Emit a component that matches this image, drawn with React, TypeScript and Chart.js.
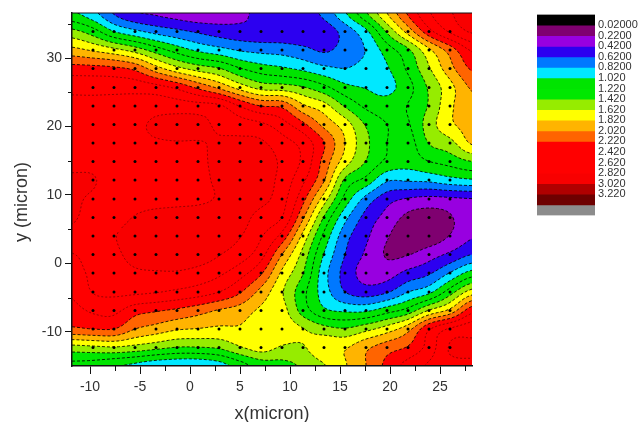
import React, { useEffect, useRef } from "react";
import { Chart, registerables } from "chart.js";

Chart.register(...registerables);

const gridX = [-11.8, -9.7, -7.6, -5.5, -3.4, -1.3, 0.8, 2.9, 5.0, 7.1, 9.2, 11.3, 13.4, 15.5, 17.6, 19.7, 21.8, 23.9, 26.0, 28.2];
const gridY = [36.6, 33.9, 31.2, 28.5, 25.7, 23.0, 20.3, 17.6, 14.9, 12.2, 9.4, 6.7, 4.0, 1.3, -1.4, -4.2, -6.9, -9.6, -12.3, -15.0];

const z00 = [1.05, .88, .60, .44, .39, .33, .28, .32, .39, .45, .47, .50, .68, 1.0, 1.4, 1.82, 2.25, 2.6, 2.8, 2.95];
const z01 = [1.48, 1.31, 1.02, .87, .75, .67, .59, .52, .48, .46, .46, .44, .50, .70, .97, 1.45, 1.9, 2.35, 2.65, 2.85];
const z02 = [1.88, 1.79, 1.68, 1.53, 1.32, 1.13, .98, .89, .80, .76, .74, .68, .59, .70, .83, 1.12, 1.38, 1.78, 2.11, 2.45];
const z03 = [2.30, 2.29, 2.26, 2.17, 1.90, 1.68, 1.53, 1.43, 1.23, 1.11, 1.05, .97, .87, .82, .90, 1.0, 1.26, 1.60, 1.95, 2.25];
const z04 = [2.57, 2.56, 2.56, 2.55, 2.50, 2.38, 2.18, 1.98, 1.74, 1.55, 1.52, 1.44, 1.28, 1.08, 1.01, .96, 1.15, 1.45, 1.75, 2.05];
const z05 = [2.66, 2.67, 2.68, 2.70, 2.73, 2.72, 2.70, 2.66, 2.41, 2.22, 2.18, 1.86, 1.70, 1.40, 1.18, 1.12, 1.23, 1.44, 1.78, 1.95];
const z06 = [2.72, 2.72, 2.74, 2.77, 2.86, 2.90, 2.88, 2.78, 2.72, 2.66, 2.50, 2.27, 1.96, 1.72, 1.40, 1.22, 1.20, 1.52, 1.78, 1.90];
const z07 = [2.74, 2.74, 2.75, 2.77, 2.80, 2.81, 2.81, 2.84, 2.86, 2.85, 2.70, 2.55, 2.23, 1.82, 1.47, 1.22, 1.14, 1.43, 1.55, 1.85];
const z08 = [2.78, 2.78, 2.76, 2.76, 2.76, 2.77, 2.79, 2.86, 2.92, 2.93, 2.78, 2.58, 2.15, 1.72, 1.41, 1.18, 1.10, 1.22, 1.30, 1.42];
const z09 = [2.84, 2.83, 2.76, 2.75, 2.75, 2.76, 2.78, 2.85, 2.92, 2.92, 2.75, 2.46, 2.04, 1.38, 1.16, .85, .85, .87, .95, 1.0];
const z10 = [2.84, 2.80, 2.76, 2.76, 2.76, 2.77, 2.78, 2.84, 2.93, 2.88, 2.70, 2.28, 1.72, 1.15, .75, .50, .40, .36, .38, .41];
const z11 = [2.84, 2.76, 2.76, 2.83, 2.88, 2.90, 2.92, 2.93, 2.90, 2.74, 2.62, 2.05, 1.40, .88, .55, .35, .17, .13, .20, .36];
const z12 = [2.76, 2.74, 2.81, 2.90, 2.95, 2.97, 2.95, 2.90, 2.83, 2.64, 2.35, 1.76, 1.17, .70, .46, .24, .10, .10, .23, .40];
const z13 = [2.61, 2.70, 2.78, 2.88, 2.94, 2.95, 2.92, 2.83, 2.72, 2.50, 2.02, 1.55, 1.01, .62, .39, .20, .21, .33, .46, .62];
const z14 = [2.55, 2.66, 2.73, 2.79, 2.80, 2.80, 2.75, 2.66, 2.50, 2.25, 1.78, 1.43, .90, .55, .34, .33, .48, .59, .83, 1.1];
const z15 = [2.45, 2.63, 2.66, 2.66, 2.63, 2.58, 2.52, 2.42, 2.24, 1.95, 1.64, 1.28, .92, .62, .52, .60, .82, .97, 1.33, 1.72];
const z16 = [2.35, 2.45, 2.47, 2.30, 2.24, 2.18, 2.10, 2.0, 1.93, 1.78, 1.7, 1.33, 1.06, .99, .99, 1.14, 1.30, 1.64, 1.88, 2.35];
const z17 = [2.18, 2.22, 2.22, 2.02, 1.93, 1.84, 1.81, 1.78, 1.79, 1.7, 1.72, 1.63, 1.50, 1.44, 1.56, 1.72, 1.95, 2.4, 2.65, 2.75];
const z18 = [1.54, 1.57, 1.60, 1.55, 1.48, 1.41, 1.41, 1.45, 1.6, 1.7, 1.6, 1.6, 1.78, 1.80, 1.98, 2.13, 2.24, 2.5, 2.84, 2.84];
const z19 = [1.15, 1.12, 1.04, .96, .87, .84, .84, .92, 1.12, 1.3, 1.35, 1.45, 1.6, 1.80, 2.02, 2.28, 2.5, 2.65, 2.75, 2.8];
const zRows = [z00, z01, z02, z03, z04, z05, z06, z07, z08, z09, z10, z11, z12, z13, z14, z15, z16, z17, z18, z19];

const levels = [0.02, 0.22, 0.42, 0.62, 0.82, 1.02, 1.22, 1.42, 1.62, 1.82, 2.02, 2.22, 2.42, 2.62, 2.82, 3.02, 3.22];
const levelLabels = ["0.02000", "0.2200", "0.4200", "0.6200", "0.8200", "1.020", "1.220", "1.420", "1.620", "1.820", "2.020", "2.220", "2.420", "2.620", "2.820", "3.020", "3.220"];
const bandColors = [
  "#000000", "#7f0070", "#9800e0", "#2c00f0", "#0078ff", "#00e8ff", "#00e400", "#00e800", "#96ec00", "#ffff00",
  "#ffb400", "#ff6400", "#ff0000", "#ff0000", "#ff0000", "#f80000", "#b00000", "#6e0000", "#8c8c8c",
];
const xMajorTicks = [-10, -5, 0, 5, 10, 15, 20, 25];
const yMajorTicks = [-10, 0, 10, 20, 30];
const xMinorTicks = [-7.5, -2.5, 2.5, 7.5, 12.5, 17.5, 22.5, 27.5];
const yMinorTicks = [-5, 5, 15, 25, 35];

const textFont = "'Liberation Sans', Arial, sans-serif";
const smooth = 5;

function catmull(a: number, b: number, c: number, d: number, t: number) {
  return 0.5 * (2 * b + (c - a) * t + (2 * a - 5 * b + 4 * c - d) * t * t + (3 * b - a - 3 * c + d) * t * t * t);
}
function refine(line: number[]) {
  const out: number[] = [];
  const n = line.length;
  for (let i = 0; i < n - 1; i++) {
    const a = line[Math.max(i - 1, 0)], b = line[i], c = line[i + 1], d = line[Math.min(i + 2, n - 1)];
    for (let s = 0; s < smooth; s++) out.push(catmull(a, b, c, d, s / smooth));
  }
  out.push(line[n - 1]);
  return out;
}
function refineGrid(rows: number[][]) {
  const across = rows.map(refine);
  const width = across[0].length;
  const cols: number[][] = [];
  for (let i = 0; i < width; i++) cols.push(refine(across.map((r) => r[i])));
  return cols; // cols[i][j]
}
function refineAxis(v: number[]) {
  const out: number[] = [];
  for (let i = 0; i < v.length - 1; i++) for (let s = 0; s < smooth; s++) out.push(v[i] + ((v[i + 1] - v[i]) * s) / smooth);
  out.push(v[v.length - 1]);
  return out;
}

const contourPlugin = {
  id: "contour",
  beforeDatasetsDraw(chart: any) {
    const { ctx, chartArea: area, scales } = chart;
    const field = refineGrid(zRows);
    const px = refineAxis(gridX).map((v) => scales.x.getPixelForValue(v));
    const py = refineAxis(gridY).map((v) => scales.y.getPixelForValue(v));
    const nx = px.length, ny = py.length;
    ctx.save();
    ctx.beginPath();
    ctx.rect(area.left, area.top, area.right - area.left, area.bottom - area.top);
    ctx.clip();
    ctx.fillStyle = bandColors[0];
    ctx.fillRect(area.left, area.top, area.right - area.left, area.bottom - area.top);
    levels.forEach((lv, k) => {
      ctx.beginPath();
      for (let i = 0; i < nx - 1; i++) {
        for (let j = 0; j < ny - 1; j++) {
          const q = [
            [px[i], py[j], field[i][j]],
            [px[i + 1], py[j], field[i + 1][j]],
            [px[i + 1], py[j + 1], field[i + 1][j + 1]],
            [px[i], py[j + 1], field[i][j + 1]],
          ];
          const poly: number[][] = [];
          for (let m = 0; m < 4; m++) {
            const a = q[m], b = q[(m + 1) % 4];
            if (a[2] >= lv) poly.push(a);
            if (a[2] >= lv !== b[2] >= lv) {
              const t = (lv - a[2]) / (b[2] - a[2]);
              poly.push([a[0] + (b[0] - a[0]) * t, a[1] + (b[1] - a[1]) * t, lv]);
            }
          }
          if (poly.length > 2) {
            ctx.moveTo(poly[0][0], poly[0][1]);
            for (let m = 1; m < poly.length; m++) ctx.lineTo(poly[m][0], poly[m][1]);
            ctx.closePath();
          }
        }
      }
      ctx.fillStyle = bandColors[k + 1];
      ctx.fill();
    });

    // contour lines, chained so that the dash pattern runs along each line
    levels.forEach((lv) => {
      const links = new Map<string, string[]>();
      const where = new Map<string, number[]>();
      const link = (a: string, b: string) => {
        if (!links.has(a)) links.set(a, []);
        if (!links.has(b)) links.set(b, []);
        links.get(a)!.push(b);
        links.get(b)!.push(a);
      };
      const cross = (key: string, x0: number, y0: number, z0: number, x1: number, y1: number, z1: number) => {
        if (z0 >= lv === z1 >= lv) return null;
        const t = (lv - z0) / (z1 - z0);
        where.set(key, [x0 + (x1 - x0) * t, y0 + (y1 - y0) * t]);
        return key;
      };
      for (let i = 0; i < nx - 1; i++) {
        for (let j = 0; j < ny - 1; j++) {
          const a = field[i][j], b = field[i + 1][j], c = field[i + 1][j + 1], d = field[i][j + 1];
          const e = [
            cross(`h${i}_${j}`, px[i], py[j], a, px[i + 1], py[j], b),
            cross(`v${i + 1}_${j}`, px[i + 1], py[j], b, px[i + 1], py[j + 1], c),
            cross(`h${i}_${j + 1}`, px[i], py[j + 1], d, px[i + 1], py[j + 1], c),
            cross(`v${i}_${j}`, px[i], py[j], a, px[i], py[j + 1], d),
          ].filter(Boolean) as string[];
          if (e.length === 2) link(e[0], e[1]);
          if (e.length === 4) {
            link(e[0], e[3]);
            link(e[1], e[2]);
          }
        }
      }
      const seen = new Set<string>();
      const walk = (start: string) => {
        ctx.moveTo(where.get(start)![0], where.get(start)![1]);
        seen.add(start);
        let cur = start;
        for (;;) {
          const next = links.get(cur)!.find((n) => !seen.has(n));
          if (!next) break;
          ctx.lineTo(where.get(next)![0], where.get(next)![1]);
          seen.add(next);
          cur = next;
        }
      };
      ctx.beginPath();
      links.forEach((n, key) => {
        if (n.length === 1 && !seen.has(key)) walk(key);
      });
      links.forEach((_n, key) => {
        if (!seen.has(key)) walk(key);
      });
      ctx.setLineDash(lv > 2.3 ? [2, 2] : [3, 2]);
      ctx.lineWidth = lv > 2.3 ? 0.8 : 1;
      ctx.strokeStyle = lv > 2.3 ? "rgba(70,0,0,0.7)" : "rgba(0,0,0,0.85)";
      ctx.stroke();
    });
    ctx.restore();
  },
  afterDatasetsDraw(chart: any) {
    const { ctx, chartArea: area, scales } = chart;
    ctx.save();
    ctx.strokeStyle = "#111";
    ctx.lineWidth = 1;
    ctx.beginPath();
    ctx.moveTo(area.left, area.top);
    ctx.lineTo(area.right, area.top);
    xMinorTicks.forEach((v) => {
      const p = Math.round(scales.x.getPixelForValue(v)) + 0.5;
      ctx.moveTo(p, area.bottom);
      ctx.lineTo(p, area.bottom + 5);
    });
    yMinorTicks.forEach((v) => {
      const p = Math.round(scales.y.getPixelForValue(v)) + 0.5;
      ctx.moveTo(area.left, p);
      ctx.lineTo(area.left - 4, p);
    });
    ctx.stroke();
    ctx.restore();
  },
};

const dotPoints: { x: number; y: number }[] = [];
gridX.slice(1, -1).forEach((x) => gridY.slice(1, -1).forEach((y) => dotPoints.push({ x, y })));

const canvasStyle = (left: number, top: number, width: number, height: number): React.CSSProperties => ({
  position: "absolute",
  left,
  top,
  width,
  height,
  filter: "blur(0.4px)",
});

export default function App() {
  const mainRef = useRef<HTMLCanvasElement>(null);
  const barRef = useRef<HTMLCanvasElement>(null);

  useEffect(() => {
    const axisFont = { family: textFont, size: 14 };
    const main = new Chart(mainRef.current!, {
      type: "scatter",
      data: {
        datasets: [
          { data: dotPoints, pointRadius: 1.5, pointBackgroundColor: "#000", pointBorderWidth: 0, showLine: false },
        ],
      },
      plugins: [contourPlugin],
      options: {
        animation: false,
        responsive: false,
        layout: { padding: { left: 0, right: 167, top: 13, bottom: 0 } },
        plugins: { legend: { display: false }, tooltip: { enabled: false } },
        scales: {
          x: {
            type: "linear",
            min: -11.8,
            max: 28.2,
            afterFit: (s: any) => { s.height = 56; },
            afterBuildTicks: (s: any) => { s.ticks = xMajorTicks.map((value) => ({ value })); },
            border: { color: "#111", width: 1.5, z: 2 },
            grid: { display: true, drawOnChartArea: false, drawTicks: true, tickLength: 8, tickColor: "#111", tickWidth: 1 },
            ticks: { padding: 5, color: "#333", font: axisFont, maxRotation: 0, autoSkip: false },
            title: { display: true, text: "x(micron)", color: "#333", font: { family: textFont, size: 18 }, padding: { top: 0, bottom: -3 } },
          },
          y: {
            type: "linear",
            min: -15,
            max: 36.6,
            afterFit: (s: any) => { s.width = 72; },
            afterBuildTicks: (s: any) => { s.ticks = yMajorTicks.map((value) => ({ value })); },
            border: { color: "#111", width: 1.5, z: 2 },
            grid: { display: true, drawOnChartArea: false, drawTicks: true, tickLength: 7, tickColor: "#111", tickWidth: 1 },
            ticks: { padding: 3, color: "#333", font: axisFont, autoSkip: false },
            title: { display: true, text: "y (micron)     ", color: "#333", font: { family: textFont, size: 18 }, padding: { top: 11, bottom: 0 } },
          },
        },
      } as any,
    });

    const bar = new Chart(barRef.current!, {
      type: "bar",
      data: {
        labels: ["scale"],
        datasets: bandColors.map((c) => ({
          data: [1],
          backgroundColor: c,
          borderWidth: 0,
          categoryPercentage: 1,
          barPercentage: 1,
        })),
      },
      options: {
        animation: false,
        responsive: false,
        layout: { padding: { left: 7, right: 0, top: 9, bottom: 5 } },
        plugins: { legend: { display: false }, tooltip: { enabled: false } },
        scales: {
          x: { stacked: true, display: false },
          y: {
            stacked: true,
            position: "right",
            reverse: true,
            min: 0,
            max: bandColors.length,
            afterFit: (s: any) => { s.width = 44; },
            border: { display: false },
            grid: { display: false, drawTicks: false, tickLength: 0 },
            ticks: {
              stepSize: 1,
              autoSkip: false,
              padding: 3,
              color: "#333",
              font: { family: textFont, size: 11 },
              callback: (v: any) => levelLabels[Number(v) - 1] ?? "",
            },
          },
        },
      } as any,
    });

    return () => {
      main.destroy();
      bar.destroy();
    };
  }, []);

  return (
    <div style={{ position: "absolute", left: 0, top: 0, width: 639, height: 422, background: "#fff", overflow: "hidden" }}>
      <canvas ref={mainRef} width={639} height={422} style={canvasStyle(0, 0, 639, 422)} />
      <canvas ref={barRef} width={109} height={220} style={canvasStyle(530, 5, 109, 220)} />
    </div>
  );
}
